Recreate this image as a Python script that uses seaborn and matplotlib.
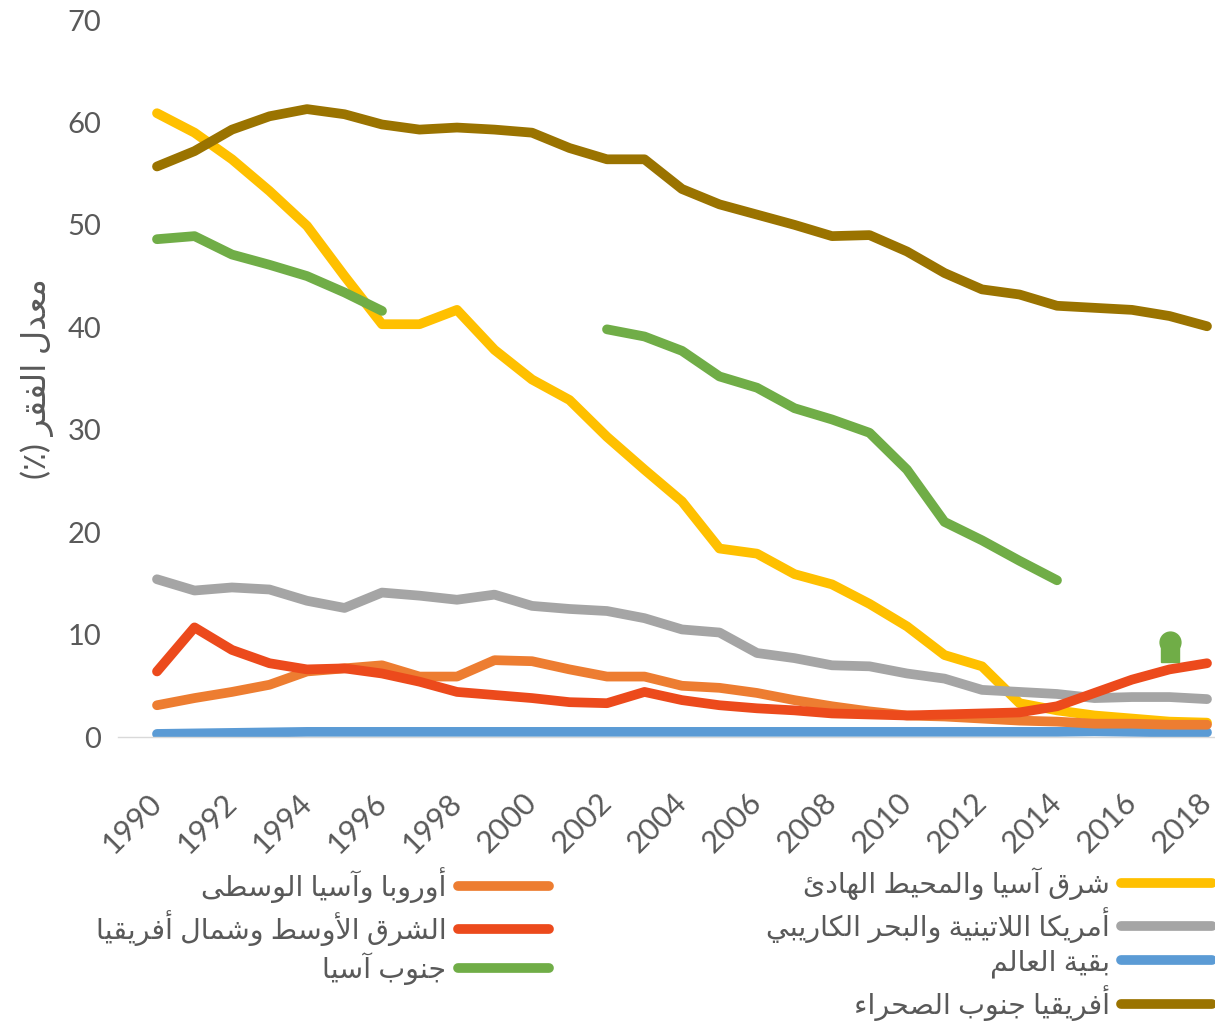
import numpy as np
import pandas as pd
from matplotlib import pyplot as plt
import seaborn as sns

# data (poverty rate, %)
years = list(range(1990, 2019))

east_asia = [60.9, 59.0, 56.4, 53.3, 49.9, 45.0, 40.3, 40.3, 41.7, 37.8,
             34.9, 32.9, 29.3, 26.1, 23.0, 18.4, 17.9, 15.9, 14.9, 13.0,
             10.8, 8.0, 6.9, 3.3, 2.6, 2.1, 1.8, 1.5, 1.4]
latin_america = [15.4, 14.3, 14.6, 14.4, 13.3, 12.6, 14.1, 13.8, 13.4, 13.9,
                 12.8, 12.5, 12.3, 11.6, 10.5, 10.2, 8.2, 7.7, 7.0, 6.9,
                 6.2, 5.7, 4.6, 4.4, 4.2, 3.8, 3.9, 3.9, 3.7]
rest_world = [0.3, 0.35, 0.4, 0.45, 0.5, 0.5, 0.5, 0.5, 0.5, 0.5,
              0.5, 0.5, 0.5, 0.5, 0.5, 0.5, 0.5, 0.5, 0.5, 0.5,
              0.5, 0.5, 0.5, 0.5, 0.5, 0.55, 0.5, 0.45, 0.45]
ssa = [55.7, 57.2, 59.3, 60.6, 61.3, 60.8, 59.8, 59.3, 59.5, 59.3,
       59.0, 57.5, 56.4, 56.4, 53.5, 52.0, 51.0, 50.0, 48.9, 49.0,
       47.4, 45.3, 43.7, 43.2, 42.1, 41.9, 41.7, 41.1, 40.1]
europe_ca = [3.1, 3.8, 4.4, 5.1, 6.4, 6.7, 7.0, 5.9, 5.9, 7.5,
             7.4, 6.6, 5.9, 5.9, 5.0, 4.8, 4.3, 3.6, 3.0, 2.5,
             2.1, 2.0, 1.8, 1.6, 1.5, 1.3, 1.3, 1.2, 1.2]
mena = [6.4, 10.7, 8.5, 7.2, 6.6, 6.7, 6.2, 5.4, 4.4, 4.1,
        3.8, 3.4, 3.3, 4.4, 3.6, 3.1, 2.8, 2.6, 2.3, 2.2,
        2.1, 2.2, 2.3, 2.4, 3.0, 4.3, 5.6, 6.6, 7.2]
# south asia has a gap 1997-2001
sa_years_a = list(range(1990, 1997))
south_asia_a = [48.6, 48.9, 47.1, 46.1, 45.0, 43.4, 41.6]
sa_years_b = list(range(2002, 2015))
south_asia_b = [39.8, 39.1, 37.7, 35.2, 34.1, 32.1, 31.0, 29.7, 26.1, 21.0,
                19.2, 17.2, 15.3]
sa_extra_year = [2017]
sa_extra_circle = [9.3]
sa_extra_square = [8.2]

labels_right = ['شرق آسيا والمحيط الهادئ', 'أمريكا اللاتينية والبحر الكاريبي',
                'بقية العالم', 'أفريقيا جنوب الصحراء']
labels_left = ['أوروبا وآسيا الوسطى', 'الشرق الأوسط وشمال أفريقيا', 'جنوب آسيا']
ylabel_text = 'معدل الفقر (٪)'

colors = {'east_asia': '#FFC000', 'latin_america': '#A5A5A5', 'rest': '#5B9BD5',
          'ssa': '#9A7300', 'europe': '#ED7D31', 'mena': '#EC4A1C', 'south_asia': '#70AD47'}
TEXT = '#595959'

# --- tiny arabic shaper (matplotlib has no bidi / joining support) ---
AR = {'ء': (0xFE80, 1), 'آ': (0xFE81, 2), 'أ': (0xFE83, 2), 'ؤ': (0xFE85, 2),
      'إ': (0xFE87, 2), 'ئ': (0xFE89, 4), 'ا': (0xFE8D, 2), 'ب': (0xFE8F, 4),
      'ة': (0xFE93, 2), 'ت': (0xFE95, 4), 'ث': (0xFE99, 4), 'ج': (0xFE9D, 4),
      'ح': (0xFEA1, 4), 'خ': (0xFEA5, 4), 'د': (0xFEA9, 2), 'ذ': (0xFEAB, 2),
      'ر': (0xFEAD, 2), 'ز': (0xFEAF, 2), 'س': (0xFEB1, 4), 'ش': (0xFEB5, 4),
      'ص': (0xFEB9, 4), 'ض': (0xFEBD, 4), 'ط': (0xFEC1, 4), 'ظ': (0xFEC5, 4),
      'ع': (0xFEC9, 4), 'غ': (0xFECD, 4), 'ف': (0xFED1, 4), 'ق': (0xFED5, 4),
      'ك': (0xFED9, 4), 'ل': (0xFEDD, 4), 'م': (0xFEE1, 4), 'ن': (0xFEE5, 4),
      'ه': (0xFEE9, 4), 'و': (0xFEED, 2), 'ى': (0xFEEF, 2), 'ي': (0xFEF1, 4)}
LAM_ALEF = {'آ': 0xFEF5, 'أ': 0xFEF7, 'إ': 0xFEF9, 'ا': 0xFEFB}


def shape(text):
    out = []
    i, n = 0, len(text)
    while i < n:
        c = text[i]
        if c not in AR:
            out.append(c)
            i += 1
            continue
        prev = text[i - 1] if i > 0 else ''
        link_prev = prev in AR and AR[prev][1] == 4
        if c == 'ل' and i + 1 < n and text[i + 1] in LAM_ALEF:
            out.append(chr(LAM_ALEF[text[i + 1]] + (1 if link_prev else 0)))
            i += 2
            continue
        start, k = AR[c]
        nxt = text[i + 1] if i + 1 < n else ''
        link_next = k == 4 and nxt in AR
        if link_prev and link_next:
            form = 3
        elif link_prev:
            form = 1 if k > 1 else 0
        elif link_next:
            form = 2
        else:
            form = 0
        out.append(chr(start + form))
        i += 1
    return ''.join(out)[::-1].translate(str.maketrans('()', ')('))


sns.set_style("white")
plt.rcParams['font.family'] = ['Lato', 'DejaVu Sans']

fig = plt.figure(figsize=(12.15, 10.30), dpi=100)
ax = fig.add_axes([118 / 1215, 1 - 737 / 1030, 1 - 118 / 1215, (737 - 20) / 1030])

LW = 7
kw = dict(ax=ax, linewidth=LW, solid_capstyle='round', solid_joinstyle='round')

series_right = [(east_asia, colors['east_asia']), (latin_america, colors['latin_america']),
                (rest_world, colors['rest']), (ssa, colors['ssa'])]
series_left = [(europe_ca, colors['europe']), (mena, colors['mena'])]

handles_right = []
for (vals, col), lab in zip(series_right, labels_right):
    sns.lineplot(x=years, y=vals, color=col, label=shape(lab), **kw)
    handles_right.append(ax.lines[-1])

handles_left = []
for (vals, col), lab in zip(series_left, labels_left[:2]):
    sns.lineplot(x=years, y=vals, color=col, label=shape(lab), **kw)
    handles_left.append(ax.lines[-1])

sns.lineplot(x=sa_years_a, y=south_asia_a, color=colors['south_asia'], label=shape(labels_left[2]), **kw)
handles_left.append(ax.lines[-1])
sns.lineplot(x=sa_years_b, y=south_asia_b, color=colors['south_asia'], **kw)
ax.plot(sa_extra_year, sa_extra_square, marker='s', ms=13, color=colors['south_asia'], linestyle='none')
ax.plot(sa_extra_year, sa_extra_circle, marker='o', ms=15, color=colors['south_asia'], linestyle='none')

if ax.get_legend() is not None:
    ax.get_legend().remove()

ax.set_xlim(1990 - 39 / 37.5, 2018 + 8 / 37.5)
ax.set_ylim(0, 70)
ax.set_xticks(list(range(1990, 2019, 2)))
ax.set_yticks(list(range(0, 71, 10)))
ax.tick_params(axis='both', length=0, labelsize=21, colors=TEXT)
ax.tick_params(axis='y', pad=12)
ax.tick_params(axis='x', labelsize=22, pad=44)
plt.setp(ax.get_xticklabels(), rotation=45, ha='right', va='center', rotation_mode='anchor')

for s in ['top', 'right', 'left']:
    ax.spines[s].set_visible(False)
ax.spines['bottom'].set_color('#D9D9D9')
ax.spines['bottom'].set_linewidth(1)
ax.set_zorder(1)

ax.set_xlabel('')
ax.set_ylabel(shape(ylabel_text), fontsize=24, color=TEXT, labelpad=10)

leg_kw = dict(loc='upper right', frameon=False, markerfirst=False, fontsize=20.5,
              handlelength=3.2, handletextpad=0.4, labelspacing=0.24,
              borderpad=0, borderaxespad=0, labelcolor=TEXT)
fig.legend(handles_right, [shape(l) for l in labels_right],
           bbox_to_anchor=(1212 / 1215, 1 - 867 / 1030), **leg_kw)
fig.legend(handles_left, [shape(l) for l in labels_left],
           bbox_to_anchor=(549 / 1215, 1 - 867 / 1030), **leg_kw)

fig.savefig('out.png', dpi=100, facecolor='white')
